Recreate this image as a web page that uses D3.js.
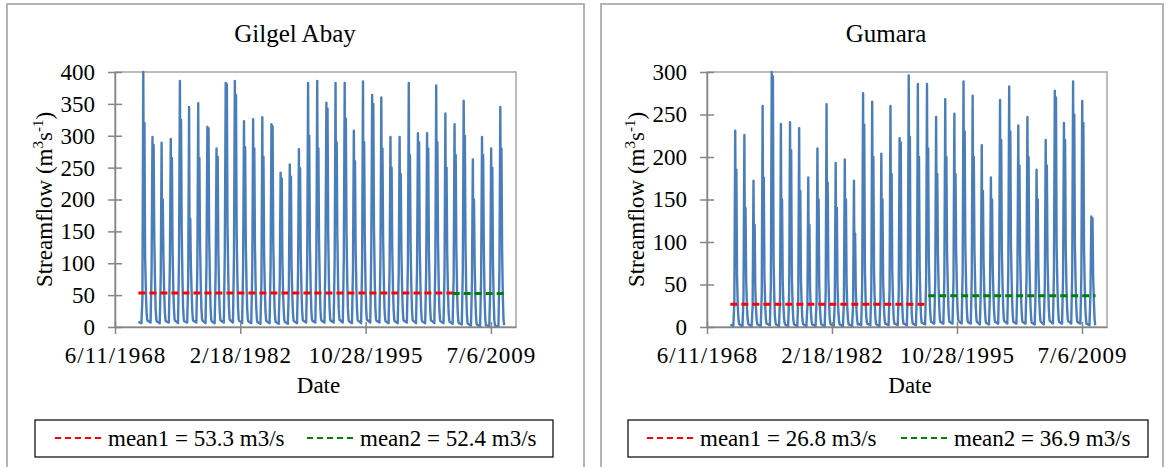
<!DOCTYPE html>
<html>
<head>
<meta charset="utf-8">
<script src="https://cdn.jsdelivr.net/npm/d3@7"></script>
<style>
  body { margin: 0; background: #fff; }
  svg { display: block; }
</style>
</head>
<body>
<div id="chart"></div>
<script>
// ---- data ----
const years = [1971, 1972, 1973, 1974, 1975, 1976, 1977, 1978, 1979, 1980,
    1981, 1982, 1983, 1984, 1985, 1986, 1987, 1988, 1989, 1990,
    1991, 1992, 1993, 1994, 1995, 1996, 1997, 1998, 1999, 2000,
    2001, 2002, 2003, 2004, 2005, 2006, 2007, 2008, 2009, 2010];

// day of year for each sampled value in a row
const sampleDays = ['01-01', '05-01', '06-10', '07-15', '08-05', '08-30', '09-25', '10-25', '11-20', '12-15'];

const gilgelFlow = [
    [8, 6, 45, 400, 150, 320, 110, 60, 25, 12],
    [10, 7, 90, 298, 170, 286, 140, 70, 28, 12],
    [9, 6, 80, 289, 120, 200, 110, 55, 25, 11],
    [9, 7, 100, 295, 160, 265, 120, 60, 28, 12],
    [10, 6, 110, 386, 190, 325, 150, 75, 30, 13],
    [9, 7, 75, 345, 110, 170, 95, 55, 25, 11],
    [10, 7, 95, 351, 140, 265, 130, 65, 28, 12],
    [10, 6, 100, 314, 180, 312, 140, 70, 30, 12],
    [9, 6, 85, 280, 130, 267, 120, 55, 25, 11],
    [10, 7, 120, 383, 200, 381, 160, 80, 32, 13],
    [11, 7, 110, 386, 210, 364, 150, 75, 30, 12],
    [10, 6, 95, 323, 160, 282, 130, 65, 28, 12],
    [9, 6, 90, 326, 150, 280, 125, 60, 27, 11],
    [8, 5, 70, 329, 140, 267, 110, 55, 24, 10],
    [9, 6, 95, 318, 170, 315, 130, 62, 26, 11],
    [8, 5, 70, 242, 130, 233, 100, 50, 22, 10],
    [8, 5, 65, 255, 120, 236, 95, 48, 22, 10],
    [9, 6, 85, 279, 140, 249, 115, 56, 25, 11],
    [10, 7, 100, 383, 170, 300, 130, 65, 28, 12],
    [10, 7, 110, 386, 160, 280, 135, 66, 28, 12],
    [10, 7, 115, 352, 190, 343, 145, 70, 30, 12],
    [10, 7, 105, 383, 170, 290, 140, 68, 28, 12],
    [11, 7, 110, 383, 180, 327, 150, 72, 30, 12],
    [9, 6, 90, 308, 150, 260, 120, 60, 26, 11],
    [10, 6, 100, 385, 160, 290, 135, 65, 28, 12],
    [11, 7, 120, 364, 200, 350, 155, 75, 30, 12],
    [10, 7, 105, 360, 160, 280, 140, 68, 28, 12],
    [9, 6, 90, 298, 140, 250, 120, 58, 26, 11],
    [9, 6, 85, 298, 135, 240, 115, 56, 25, 11],
    [10, 7, 100, 383, 150, 270, 130, 64, 27, 11],
    [10, 6, 95, 304, 160, 290, 125, 62, 26, 11],
    [9, 6, 90, 304, 150, 280, 120, 58, 25, 10],
    [10, 6, 100, 379, 160, 290, 130, 62, 26, 11],
    [9, 6, 85, 335, 140, 250, 115, 56, 24, 10],
    [8, 5, 80, 318, 150, 270, 120, 55, 22, 8],
    [6, 4, 90, 355, 170, 300, 130, 55, 20, 6],
    [5, 2, 70, 263, 120, 200, 100, 45, 15, 4],
    [4, 1, 80, 298, 150, 270, 120, 48, 14, 3],
    [3, 0, 65, 280, 130, 250, 100, 40, 10, 2],
    [2, 0, 90, 345, 160, 280, 120, 45, 12, 3]
];

const gumaraFlow = [
    [3, 1, 30, 231, 90, 185, 60, 25, 10, 4],
    [3, 1, 35, 226, 80, 140, 55, 25, 10, 4],
    [3, 1, 25, 172, 70, 120, 45, 20, 8, 3],
    [3, 1, 40, 260, 90, 176, 60, 28, 10, 4],
    [4, 2, 50, 300, 130, 295, 80, 35, 12, 5],
    [3, 1, 35, 239, 80, 150, 55, 25, 10, 4],
    [3, 1, 40, 241, 100, 208, 60, 28, 10, 4],
    [3, 1, 35, 234, 85, 160, 55, 25, 10, 4],
    [3, 1, 25, 176, 70, 120, 45, 20, 8, 3],
    [3, 1, 30, 210, 80, 150, 50, 22, 9, 3],
    [3, 1, 40, 262, 90, 170, 60, 27, 10, 4],
    [3, 1, 30, 193, 75, 140, 50, 22, 9, 3],
    [3, 1, 30, 197, 80, 150, 50, 22, 9, 3],
    [3, 1, 25, 172, 65, 110, 45, 20, 8, 3],
    [4, 2, 50, 275, 120, 238, 70, 32, 12, 5],
    [4, 2, 45, 265, 100, 200, 65, 30, 11, 4],
    [3, 1, 35, 204, 80, 150, 55, 25, 10, 4],
    [4, 2, 45, 260, 95, 180, 65, 30, 11, 4],
    [4, 2, 40, 222, 100, 217, 60, 28, 11, 4],
    [4, 2, 50, 296, 110, 224, 70, 32, 12, 5],
    [4, 2, 50, 286, 100, 200, 70, 32, 12, 5],
    [5, 3, 55, 286, 110, 210, 80, 40, 18, 8],
    [6, 4, 55, 247, 100, 180, 85, 45, 22, 9],
    [6, 4, 60, 268, 110, 200, 90, 48, 22, 9],
    [6, 4, 55, 251, 100, 180, 85, 45, 20, 9],
    [7, 4, 65, 289, 120, 230, 95, 50, 24, 10],
    [6, 4, 60, 272, 110, 200, 90, 48, 22, 9],
    [6, 3, 50, 214, 95, 160, 75, 40, 20, 8],
    [5, 3, 45, 176, 90, 150, 70, 38, 18, 8],
    [6, 4, 60, 267, 110, 220, 90, 48, 22, 9],
    [7, 4, 65, 283, 120, 230, 95, 50, 24, 10],
    [6, 4, 55, 237, 100, 190, 85, 45, 22, 9],
    [6, 4, 60, 247, 105, 200, 85, 46, 22, 9],
    [5, 3, 45, 185, 90, 150, 70, 38, 18, 8],
    [6, 3, 50, 220, 100, 190, 80, 42, 20, 8],
    [7, 4, 65, 278, 130, 270, 95, 50, 24, 10],
    [6, 4, 60, 240, 110, 220, 90, 46, 22, 9],
    [7, 4, 65, 289, 120, 250, 95, 50, 24, 10],
    [6, 4, 60, 266, 110, 240, 90, 46, 20, 8],
    [4, 2, 40, 130, 70, 128, 60, 30, 10, 2]
];

const gilgelMeanValues = [53.3, 52.4];
const gilgelMeanPeriods = [['1971-01-01', '2005-05-01'], ['2005-05-01', '2010-12-31']];
const gumaraMeanValues = [26.8, 36.9];
const gumaraMeanPeriods = [['1971-01-01', '1992-09-01'], ['1992-09-01', '2010-12-31']];

const meanNames = ['mean1', 'mean2'];
const meanColors = ['#ff0000', '#008000'];

const xTickDates = ['1968-06-11', '1982-02-18', '1995-10-28', '2009-07-06'];
const xTickLabels = ['6/11/1968', '2/18/1982', '10/28/1995', '7/6/2009'];
const xDomain = ['1968-06-11', '2012-04-01'];

// ---- drawing ----
const FONT = "'Liberation Serif', 'Times New Roman', serif";
const parse = s => new Date(s + 'T00:00:00Z');

const svg = d3.select('#chart')
    .append('svg')
    .attr('width', 1167)
    .attr('height', 467)
    .style('font-family', FONT);

function buildSeries(rows) {
    const pts = [];
    rows.forEach((row, i) => {
        row.forEach((v, j) => {
            pts.push({date: parse(`${years[i]}-${sampleDays[j]}`), value: v});
        });
    });
    return pts;
}

function drawPanel(p) {
    // panel frame
    svg.append('rect')
        .attr('x', p.box[0]).attr('y', p.box[1])
        .attr('width', p.box[2]).attr('height', 500)
        .attr('fill', 'none')
        .attr('stroke', '#b4b4b4')
        .attr('stroke-width', 2);

    const x = d3.scaleUtc()
        .domain(xDomain.map(parse))
        .range([p.plot[0], p.plot[1]]);
    const y = d3.scaleLinear()
        .domain([0, p.yMax])
        .range([p.plot[3], p.plot[2]]);

    // plot area border
    svg.append('rect')
        .attr('x', p.plot[0]).attr('y', p.plot[2])
        .attr('width', p.plot[1] - p.plot[0])
        .attr('height', p.plot[3] - p.plot[2])
        .attr('fill', 'none')
        .attr('stroke', '#a6a6a6')
        .attr('stroke-width', 1.5);

    // streamflow line
    const line = d3.line()
        .x(d => x(d.date))
        .y(d => y(d.value));
    svg.append('path')
        .datum(buildSeries(p.flow))
        .attr('d', line)
        .attr('fill', 'none')
        .attr('stroke', '#4a7ebb')
        .attr('stroke-width', 2.4)
        .attr('stroke-linejoin', 'round');

    // mean lines
    p.meanValues.forEach((m, i) => {
        const [a, b] = p.meanPeriods[i].map(parse);
        svg.append('line')
            .attr('x1', x(a)).attr('x2', x(b))
            .attr('y1', y(m)).attr('y2', y(m))
            .attr('stroke', meanColors[i])
            .attr('stroke-width', 3)
            .attr('stroke-dasharray', '7,4');
    });

    // y axis
    const yAxis = svg.append('g')
        .attr('transform', `translate(${p.plot[0]},0)`)
        .call(d3.axisLeft(y)
            .tickValues(d3.range(0, p.yMax + 1, 50))
            .tickSizeInner(7)
            .tickSizeOuter(0)
            .tickPadding(13));
    yAxis.selectAll('.tick line').attr('x2', -7).attr('x1', 7);

    // x axis
    const xAxis = svg.append('g')
        .attr('transform', `translate(0,${p.plot[3]})`)
        .call(d3.axisBottom(x)
            .tickValues(xTickDates.map(parse))
            .tickFormat((d, i) => xTickLabels[i])
            .tickSizeInner(7)
            .tickSizeOuter(0));
    xAxis.selectAll('.tick line').attr('y1', -5).attr('y2', 7);
    xAxis.selectAll('.tick text').attr('y', 36).attr('dy', null)
        .attr('letter-spacing', '1px');

    svg.selectAll('.domain, .tick line')
        .attr('stroke', '#868686')
        .attr('stroke-width', 1.5);
    svg.selectAll('.tick text')
        .attr('fill', '#000')
        .attr('font-size', 23)
        .attr('font-family', FONT);
    [yAxis, xAxis].forEach(g => g.attr('font-family', FONT).attr('font-size', 23));

    // title
    svg.append('text')
        .attr('x', p.titleX).attr('y', 42)
        .attr('text-anchor', 'middle')
        .attr('font-size', 25)
        .text(p.title);

    // axis titles
    svg.append('text')
        .attr('x', (p.plot[0] + p.plot[1]) / 2 + 3).attr('y', 393)
        .attr('text-anchor', 'middle')
        .attr('font-size', 23)
        .text('Date');

    const yl = svg.append('text')
        .attr('transform', `translate(${p.plot[0] - 63},${(p.plot[2] + p.plot[3]) / 2}) rotate(-90)`)
        .attr('text-anchor', 'middle')
        .attr('font-size', 23);
    yl.append('tspan').text('Streamflow (m');
    yl.append('tspan').attr('dy', -9).attr('font-size', 15).text('3');
    yl.append('tspan').attr('dy', 9).text('s');
    yl.append('tspan').attr('dy', -9).attr('font-size', 15).text('-1');
    yl.append('tspan').attr('dy', 9).text(')');

    // legend
    const lg = p.legend;
    svg.append('rect')
        .attr('x', lg.x).attr('y', 420)
        .attr('width', lg.w).attr('height', 37)
        .attr('fill', '#fff')
        .attr('stroke', '#000')
        .attr('stroke-width', 1.2);
    p.meanValues.forEach((m, i) => {
        const lx = lg.items[i];
        svg.append('line')
            .attr('x1', lx).attr('x2', lx + 48)
            .attr('y1', 438).attr('y2', 438)
            .attr('stroke', meanColors[i])
            .attr('stroke-width', 2.2)
            .attr('stroke-dasharray', '6,4');
        svg.append('text')
            .attr('x', lx + 53).attr('y', 446)
            .attr('font-size', 23)
            .text(`${meanNames[i]} = ${m} m3/s`);
    });
}

drawPanel({
    title: 'Gilgel Abay',
    titleX: 295,
    box: [7, 4, 577],
    plot: [115, 516, 72, 327],
    yMax: 400,
    flow: gilgelFlow,
    meanValues: gilgelMeanValues,
    meanPeriods: gilgelMeanPeriods,
    legend: {x: 35, w: 518, items: [55, 307]}
});

drawPanel({
    title: 'Gumara',
    titleX: 886,
    box: [601, 4, 562],
    plot: [707, 1107, 72, 327],
    yMax: 300,
    flow: gumaraFlow,
    meanValues: gumaraMeanValues,
    meanPeriods: gumaraMeanPeriods,
    legend: {x: 628, w: 520, items: [647, 901]}
});
</script>
</body>
</html>
